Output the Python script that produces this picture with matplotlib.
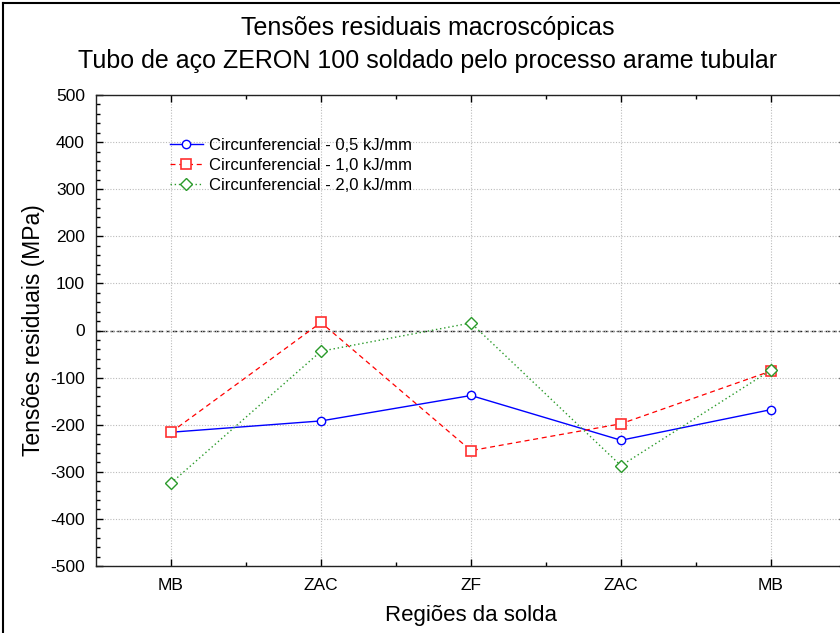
import matplotlib
matplotlib.use("Agg")
import matplotlib.pyplot as plt
from matplotlib.lines import Line2D
from matplotlib.ticker import MultipleLocator, FixedLocator

plt.rcParams['font.family'] = ['Liberation Sans', 'DejaVu Sans']
plt.rcParams['axes.unicode_minus'] = False

regions = ["MB", "ZAC", "ZF", "ZAC", "MB"]
s05 = [-216, -192, -138, -233, -168]
s10 = [-216, 17, -255, -198, -86]
s20 = [-324, -44, 16, -287, -84]
labels = ["Circunferencial - 0,5 kJ/mm", "Circunferencial - 1,0 kJ/mm", "Circunferencial - 2,0 kJ/mm"]

W, H = 840, 633
fig = plt.figure(figsize=(W/100, H/100), dpi=100)
left, top, bottom, right = 96, 95, 566, 846
ax = fig.add_axes([left/W, 1 - bottom/H, (right-left)/W, (bottom-top)/H])

x = list(range(len(regions)))
ax.plot(x, s05, color='#0000ff', lw=1.0, ls='-', marker='o', ms=6, mfc='white', mec='#0000ff', mew=1.0, label=labels[0])
ax.plot(x, s10, color='#ff0000', lw=0.9, ls=(0, (4, 3)), marker='s', ms=7.5, mfc='white', mec='#ff3030', mew=1.2, label=labels[1])
ax.plot(x, s20, color='#2a9a2a', lw=1.0, ls=(0, (1, 2)), marker='D', ms=6, mfc='white', mec='#2a9a2a', mew=1.0, label=labels[2])

ax.axhline(0, color='#222222', lw=1.0, ls=(0, (3, 2)), zorder=1)

ax.set_xlim(-0.5, 4.5)
ax.set_ylim(-500, 500)
ax.set_xticks(x)
ax.set_xticklabels(regions)
ax.xaxis.set_minor_locator(FixedLocator([0.5, 1.5, 2.5, 3.5]))
ax.yaxis.set_major_locator(MultipleLocator(100))
ax.yaxis.set_minor_locator(MultipleLocator(20))
ax.tick_params(axis='both', which='both', direction='in', top=True, right=True)
ax.tick_params(axis='both', which='major', length=5, width=1, labelsize=12.5)
ax.tick_params(axis='both', which='minor', length=3, width=1)
ax.tick_params(axis='x', which='major', pad=9)
ax.tick_params(axis='y', which='major', pad=8)
ax.grid(True, which='major', color='#bbbbbb', ls=(0, (1, 1.5)), lw=0.8)
for sp in ax.spines.values():
    sp.set_linewidth(1.0)
    sp.set_color('#222222')

ax.set_xlabel("Regiões da solda", fontsize=16, labelpad=8)
ax.set_ylabel("Tensões residuais (MPa)", fontsize=16.5, labelpad=4)

fig.text(428/W, 1 - 28/H, "Tensões residuais macroscópicas", ha='center', va='center', fontsize=18)
fig.text(428/W, 1 - 61/H, "Tubo de aço ZERON 100 soldado pelo processo arame tubular", ha='center', va='center', fontsize=18)

leg = ax.legend(loc='upper left', bbox_to_anchor=((163-left)/(right-left), (top-131)/(bottom-top) + 1), frameon=False,
                fontsize=12, handlelength=2.0, handletextpad=0.35, labelspacing=0.3, borderaxespad=0)

fig.add_artist(Line2D([3/W, 3/W], [0, 1 - 3/H], color='black', lw=1.5, transform=fig.transFigure))
fig.add_artist(Line2D([3/W, 1], [1 - 3/H, 1 - 3/H], color='black', lw=1.5, transform=fig.transFigure))

fig.savefig("out.png", dpi=100)
